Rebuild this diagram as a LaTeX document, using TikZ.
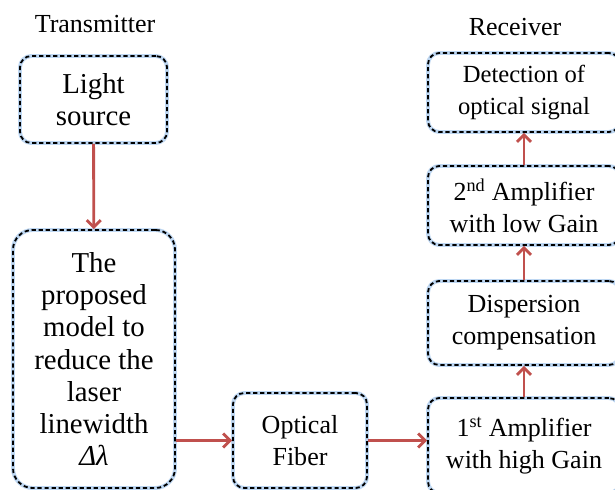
\documentclass[tikz,border=0pt]{standalone}
\usepackage{fontspec}
\setmainfont{Liberation Serif}
\usetikzlibrary{arrows.meta, positioning}
\definecolor{arrowred}{RGB}{192,80,77}
\definecolor{glowblue}{RGB}{190,215,242}

\tikzset{
  block/.style={draw=black, line width=1.3pt, dash pattern=on 3pt off 2pt,
    rounded corners=8pt, align=center, inner sep=0pt,
    font=\fontsize{18.5}{22.7}\selectfont,
    preaction={draw=glowblue, solid, line width=2.8pt}},
  big/.style={font=\fontsize{20.5}{22.9}\selectfont},
  small/.style={font=\fontsize{17.5}{22.7}\selectfont},
  flow/.style={draw=arrowred, line width=2pt, -{Straight Barb[length=5pt, width=10pt, line width=2pt]}},
  side/.style={font=\fontsize{18.5}{22}\selectfont}
}

\begin{document}
\begin{tikzpicture}[x=0.025cm, y=-0.025cm]
\useasboundingbox (0,0) rectangle (615,490);
\node[side] (tx) at (95,24) {Transmitter};
\node[side] (rx) at (515,27) {Receiver};

\node[block, big, minimum width=147*0.025cm, minimum height=87*0.025cm] (light) at (93.5,99.5) {Light\\source};
\node[block, big, rounded corners=14pt, minimum width=162*0.025cm, minimum height=258*0.025cm] (model) at (94,359)
  {The\\proposed\\model to\\reduce the\\laser\\linewidth\\\textit{Δλ}};
\node[block, minimum width=134*0.025cm, minimum height=95*0.025cm] (fiber) at (300,440.5) {Optical\\Fiber};
\node[block, minimum width=192*0.025cm, minimum height=95*0.025cm] (amp1) at (524,445.5)
  {1\textsuperscript{st} Amplifier\\with high Gain};
\node[block, minimum width=192*0.025cm, minimum height=84*0.025cm] (disp) at (524,323) {Dispersion\\compensation};
\node[block, minimum width=192*0.025cm, minimum height=79*0.025cm] (amp2) at (524,205.5)
  {2\textsuperscript{nd} Amplifier\\with low Gain};
\node[block, small, minimum width=192*0.025cm, minimum height=79*0.025cm] (det) at (524,92.5) {Detection of\\optical signal};

% signal path
\draw[flow] (light) -- (model);
\draw[flow] (model.east |- fiber.west) -- (fiber.west);
\draw[flow] (fiber.east) -- (fiber.east -| amp1.west);
\draw[flow] (amp1) -- (disp);
\draw[flow] (disp) -- (amp2);
\draw[flow] (amp2) -- (det);
\end{tikzpicture}
\end{document}
